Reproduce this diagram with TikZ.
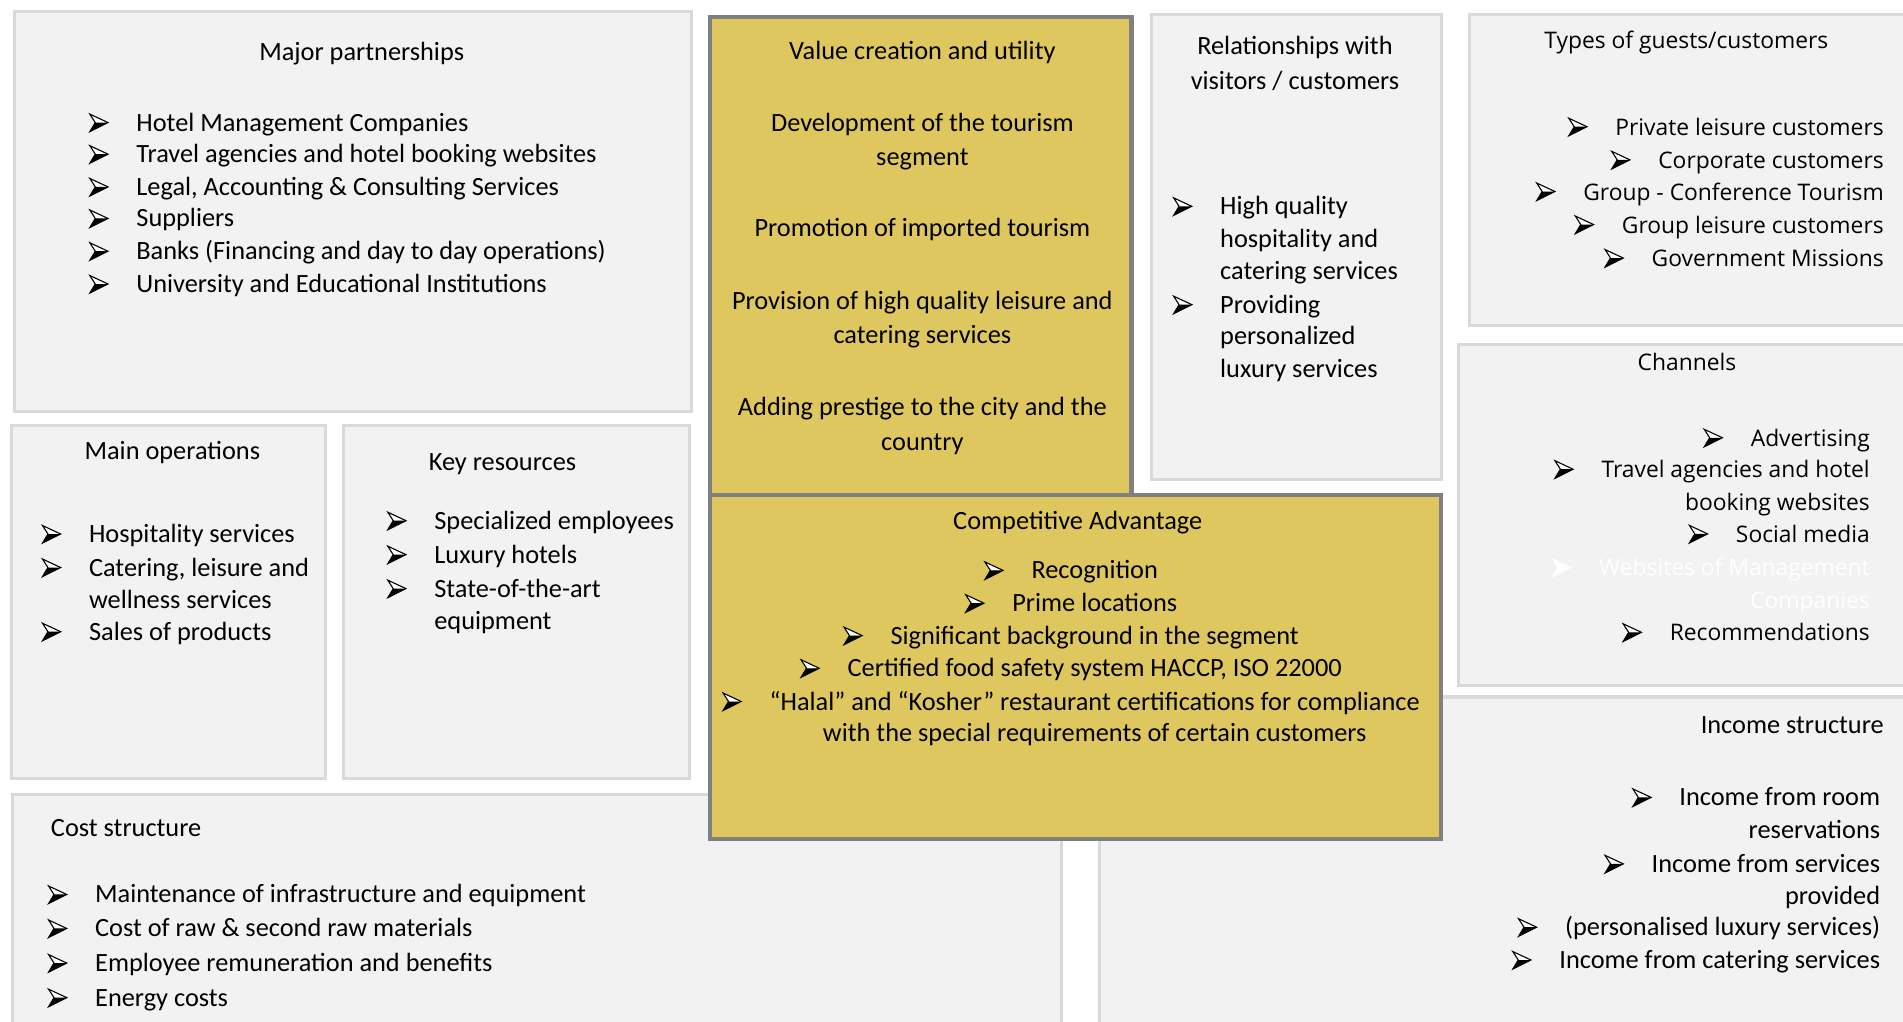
\documentclass[tikz,border=0pt]{standalone}
\usepackage{fontspec}
\setmainfont{Carlito}
\newfontfamily\osfam{Open Sans}
\definecolor{boxfill}{HTML}{F2F2F2}
\definecolor{boxline}{HTML}{D9D9D9}
\definecolor{yfill}{HTML}{DEC75E}
\definecolor{yline}{HTML}{808080}
\newcommand\calf{\fontsize{10.85}{13}\selectfont}
\newcommand\osf{\osfam\fontsize{9.4}{12}\selectfont}
\tikzset{
  pics/abul/.default=black,
  pics/abul/.style={code={
    \fill[white] (0,-14) -- (15,-7) -- (4.5,-7) -- cycle;
    \fill[#1] (0,0.5) -- (15,-7) -- (4.5,-7) -- cycle;
    \draw[#1,line width=0.45pt,line join=miter] (0,-14) -- (15,-7) -- (0,0.5) -- (4.5,-7) -- cycle;
  }}
}
\newcommand\bu[2][black]{\pic at ([xshift=-19pt]#2.base west) {abul=#1};}
\begin{document}
\begin{tikzpicture}[x=0.5pt,y=-0.5pt,
  lbox/.style={draw=boxline,line width=1.25pt,fill=boxfill},
  ybox/.style={draw=yline,line width=1.7pt,fill=yfill},
  ct/.style={inner sep=0pt,anchor=base,font=\calf},
  lt/.style={inner sep=0pt,anchor=base west,font=\calf},
  ri/.style={inner sep=0pt,anchor=base east,font=\calf},
  rt/.style={inner sep=0pt,anchor=base east,font=\osf},
  ot/.style={inner sep=0pt,anchor=base,font=\osf},
]
\useasboundingbox (0,0) rectangle (1568,842);
\fill[white] (0,0) rectangle (1568,842);
\clip (0,0) rectangle (1568,842);

% Major partnerships
\draw[lbox] (12.3,9.3) rectangle (569.7,338.7);
\node[ct] (mpT) at (298,50) {Major partnerships};
\node[lt] (mp1) at (112,108) {Hotel Management Companies}; \bu{mp1}
\node[lt] (mp2) at (112,134) {Travel agencies and hotel booking websites}; \bu{mp2}
\node[lt] (mp3) at (112,161) {Legal, Accounting \& Consulting Services}; \bu{mp3}
\node[lt] (mp4) at (112,187) {Suppliers}; \bu{mp4}
\node[lt] (mp5) at (112,214) {Banks (Financing and day to day operations)}; \bu{mp5}
\node[lt] (mp6) at (112,241) {University and Educational Institutions}; \bu{mp6}

% Main operations
\draw[lbox] (9.5,350.3) rectangle (268.1,641.4);
\node[ct] (moT) at (142,379) {Main operations};
\node[lt] (mo1) at (73,447) {Hospitality services}; \bu{mo1}
\node[lt] (mo2) at (73,474.6) {Catering, leisure and}; \bu{mo2}
\node[lt] (mo3) at (73,501) {wellness services};
\node[lt] (mo4) at (73,527.5) {Sales of products}; \bu{mo4}

% Key resources
\draw[lbox] (283.3,350.3) rectangle (568.1,641.4);
\node[ct] (krT) at (414,388) {Key resources};
\node[lt] (kr1) at (357.5,436) {Specialized employees}; \bu{kr1}
\node[lt] (kr2) at (357.5,464) {Luxury hotels}; \bu{kr2}
\node[lt] (kr3) at (357.5,492) {State-of-the-art}; \bu{kr3}
\node[lt] (kr4) at (357.5,519) {equipment};

% Relationships
\draw[lbox] (948.9,12.3) rectangle (1187.4,394.7);
\node[ct] (reT1) at (1067,45) {Relationships with};
\node[ct] (reT2) at (1067,74) {visitors / customers};
\node[lt] (re1) at (1005,177) {High quality}; \bu{re1}
\node[lt] (re2) at (1005,204) {hospitality and};
\node[lt] (re3) at (1005,230) {catering services};
\node[lt] (re4) at (1005,258) {Providing}; \bu{re4}
\node[lt] (re5) at (1005,284) {personalized};
\node[lt] (re6) at (1005,311) {luxury services};

% Types of guests
\draw[lbox] (1210.9,12.3) rectangle (1575,268);
\node[ot] (tgT) at (1389.5,39.6) {Types of guests/customers};
\node[rt] (tg1) at (1552.5,111.4) {Private leisure customers}; \bu{tg1}
\node[rt] (tg2) at (1552.5,138.7) {Corporate customers}; \bu{tg2}
\node[rt] (tg3) at (1552.5,164.8) {Group - Conference Tourism}; \bu{tg3}
\node[rt] (tg4) at (1552.5,192) {Group leisure customers}; \bu{tg4}
\node[rt] (tg5) at (1552.5,219.6) {Government Missions}; \bu{tg5}

% Channels
\draw[lbox] (1201.6,283.9) rectangle (1575,565.2);
\node[ot] (chT) at (1390,305) {Channels};
\node[rt] (ch1) at (1541,367.7) {Advertising}; \bu{ch1}
\node[rt] (ch2) at (1541,393.6) {Travel agencies and hotel}; \bu{ch2}
\node[rt] (ch3) at (1541,420.4) {booking websites};
\node[rt] (ch4) at (1541,446.9) {Social media}; \bu{ch4}
\node[rt,text=white] (ch5) at (1541,474.5) {Websites of Management}; \bu[white]{ch5}
\node[rt,text=white] (ch6) at (1541,501) {Companies};
\node[rt] (ch7) at (1541,528) {Recommendations}; \bu{ch7}

% Cost structure
\draw[lbox] (10,654.3) rectangle (874.7,860);
\node[lt] (csT) at (41.6,689) {Cost structure};
\node[lt] (cs1) at (78,744) {Maintenance of infrastructure and equipment}; \bu{cs1}
\node[lt] (cs2) at (78,772) {Cost of raw \& second raw materials}; \bu{cs2}
\node[lt] (cs3) at (78,800.5) {Employee remuneration and benefits}; \bu{cs3}
\node[lt] (cs4) at (78,829) {Energy costs}; \bu{cs4}

% Income structure
\draw[lbox] (906.3,574.3) rectangle (1575,860);
\node[ri] (isT) at (1552.5,604) {Income structure};
\node[ri] (is1) at (1549.5,664) {Income from room}; \bu{is1}
\node[ri] (is2) at (1549.5,691) {reservations};
\node[ri] (is3) at (1549.5,718.8) {Income from services}; \bu{is3}
\node[ri] (is4) at (1549.5,745) {provided};
\node[ri] (is5) at (1549.5,771) {(personalised luxury services)}; \bu{is5}
\node[ri] (is6) at (1549.5,798) {Income from catering services}; \bu{is6}

% Value creation
\draw[ybox] (584.7,13.7) rectangle (932.3,415);
\node[ct] (vcT) at (760,49) {Value creation and utility};
\node[ct] (vc1) at (760,108) {Development of the tourism};
\node[ct] (vc2) at (760,136) {segment};
\node[ct] (vc3) at (760,195) {Promotion of imported tourism};
\node[ct] (vc4) at (760,255) {Provision of high quality leisure and};
\node[ct] (vc5) at (760,283) {catering services};
\node[ct] (vc6) at (760,342) {Adding prestige to the city and the};
\node[ct] (vc7) at (760,371) {country};

% Competitive advantage
\draw[ybox] (584.7,407.7) rectangle (1187.3,691.3);
\node[ct] (caT) at (888,436) {Competitive Advantage};
\node[ct] (ca1) at (902,477) {Recognition}; \bu{ca1}
\node[ct] (ca2) at (902,504) {Prime locations}; \bu{ca2}
\node[ct] (ca3) at (902,530.7) {Significant background in the segment}; \bu{ca3}
\node[ct] (ca4) at (902,557.6) {Certified food safety system HACCP, ISO 22000}; \bu{ca4}
\node[ct] (ca5) at (902,585) {“Halal” and “Kosher” restaurant certifications for compliance}; \bu{ca5}
\node[ct] (ca6) at (902,611) {with the special requirements of certain customers};
\end{tikzpicture}
\end{document}
